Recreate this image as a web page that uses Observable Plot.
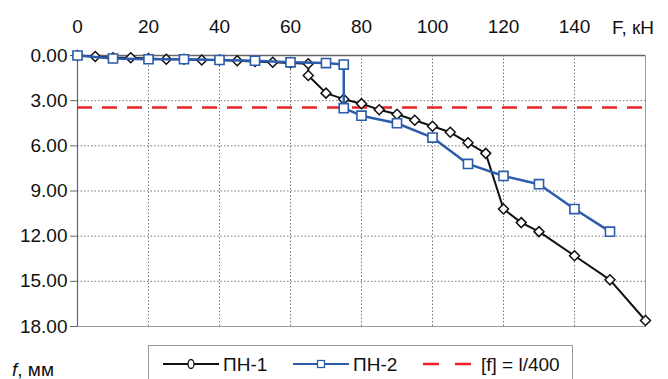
<!DOCTYPE html>
<html>
<head>
<meta charset="utf-8">
<script src="https://cdn.jsdelivr.net/npm/d3@7"></script>
<script src="https://cdn.jsdelivr.net/npm/@observablehq/plot@0.6"></script>
<style>
  html, body { margin: 0; padding: 0; background: #fff; overflow: hidden; }
  body { width: 668px; height: 379px; position: relative; font-family: "Liberation Sans", Arial, sans-serif; }
  #chart { position: absolute; left: 0; top: 0; }
  .lbl { position: absolute; font-size: 19px; color: #111; white-space: nowrap; line-height: 1; }
  #legend { position: absolute; left: 148px; top: 345px; width: 425px; height: 40px; border: 1px solid #999; box-sizing: border-box; }
  #legend svg { position: absolute; left: 0; top: 0; }
</style>
</head>
<body>
<div id="chart"></div>
<div class="lbl" style="left:612px; top:18px;">F, кН</div>
<div class="lbl" style="left:12px; top:360px;"><i>f</i>, мм</div>
<div id="legend"></div>
<script>
// Data
const seriesNames = ["ПН-1", "ПН-2"];
const F1 = [0,5,10,15,20,25,30,35,40,45,50,55,60,65,65,70,75,80,85,90,95,100,105,110,115,120,125,130,140,150,160];
const f1 = [0,0.07,0.15,0.15,0.2,0.25,0.25,0.3,0.3,0.35,0.4,0.45,0.5,0.55,1.33,2.5,2.9,3.2,3.6,3.9,4.3,4.7,5.1,5.8,6.5,10.2,11.1,11.7,13.3,14.9,17.6];
const F2 = [0,10,20,30,40,50,60,70,75,75,80,90,100,110,120,130,140,150];
const f2 = [0,0.2,0.25,0.25,0.3,0.35,0.45,0.5,0.6,3.5,4.0,4.5,5.45,7.2,8.0,8.55,10.2,11.7];
const limitValue = 3.45;
const limitLabel = "[f] = l/400";
const xTicks = [0,20,40,60,80,100,120,140];
const yTicks = [0,3,6,9,12,15,18];

const d1 = F1.map((F, i) => ({F, f: f1[i]}));
const d2 = F2.map((F, i) => ({F, f: f2[i]}));

const black = "#111";
const blue = "#2b5daa";
const red = "#e8262a";
const font = '"Liberation Sans", Arial, sans-serif';

const plot = Plot.plot({
  width: 668,
  height: 340,
  marginLeft: 77,
  marginRight: 23,
  marginTop: 55,
  marginBottom: 14,
  style: {fontFamily: font, fontSize: "19px", color: "#111", background: "#fff"},
  x: {domain: [0, 160]},
  y: {domain: [0, 18], reverse: true},
  marks: [
    Plot.gridX(xTicks.filter(d => d > 0), {stroke: "#777", strokeOpacity: 1, strokeDasharray: "1.5,2"}),
    Plot.gridY(yTicks.filter(d => d > 0 && d < 18), {stroke: "#777", strokeOpacity: 1, strokeDasharray: "1.5,2"}),
    Plot.frame({stroke: "#999"}),
    Plot.ruleY([0], {stroke: "#666", strokeWidth: 1.5}),
    Plot.ruleX([0], {stroke: "#666", strokeWidth: 1.2}),
    Plot.axisX(xTicks, {anchor: "top", tickSize: 0, tickPadding: 23, label: null, fontSize: 19}),
    Plot.axisY(yTicks, {anchor: "left", tickSize: 7, tickPadding: 3, label: null, fontSize: 19, tickFormat: d => d.toFixed(2), stroke: "#666"}),
    Plot.ruleY([limitValue], {stroke: red, strokeWidth: 2.5, strokeDasharray: "15,10"}),
    Plot.line(d1, {x: "F", y: "f", stroke: black, strokeWidth: 2}),
    Plot.dot(d1, {x: "F", y: "f", symbol: "diamond2", r: 4.5, stroke: black, strokeWidth: 1.5, fill: "white"}),
    Plot.line(d2, {x: "F", y: "f", stroke: blue, strokeWidth: 2.5}),
    Plot.dot(d2, {x: "F", y: "f", symbol: "square2", r: 5.8, stroke: blue, strokeWidth: 1.6, fill: "white"})
  ]
});
document.getElementById("chart").appendChild(plot);

// Legend
const leg = d3.select("#legend").append("svg").attr("width", 425).attr("height", 40);
const items = [
  {x: 14, w: 56, tx: 74, label: seriesNames[0], color: black, sym: "diamond", dash: null},
  {x: 144, w: 56, tx: 204, label: seriesNames[1], color: blue, sym: "square", dash: null},
  {x: 274, w: 48, tx: 332, label: limitLabel, color: red, sym: null, dash: "16,16"}
];
const ly = 18;
items.forEach(it => {
  leg.append("line").attr("x1", it.x).attr("x2", it.x + it.w).attr("y1", ly).attr("y2", ly)
    .attr("stroke", it.color).attr("stroke-width", it.dash ? 2.5 : 2).attr("stroke-dasharray", it.dash);
  const cx = it.x + it.w / 2;
  if (it.sym === "diamond") {
    leg.append("ellipse").attr("cx", cx).attr("cy", ly).attr("rx", 3).attr("ry", 4.5)
      .attr("fill", "white").attr("stroke", it.color).attr("stroke-width", 1.3);
  } else if (it.sym === "square") {
    leg.append("rect").attr("x", cx - 3.5).attr("y", ly - 3.5).attr("width", 7).attr("height", 7)
      .attr("fill", "white").attr("stroke", it.color).attr("stroke-width", 1.3);
  }
  leg.append("text").attr("x", it.tx).attr("y", ly).attr("dy", "0.35em")
    .attr("font-size", 19).attr("font-family", font).attr("fill", "#111").text(it.label);
});
</script>
</body>
</html>
